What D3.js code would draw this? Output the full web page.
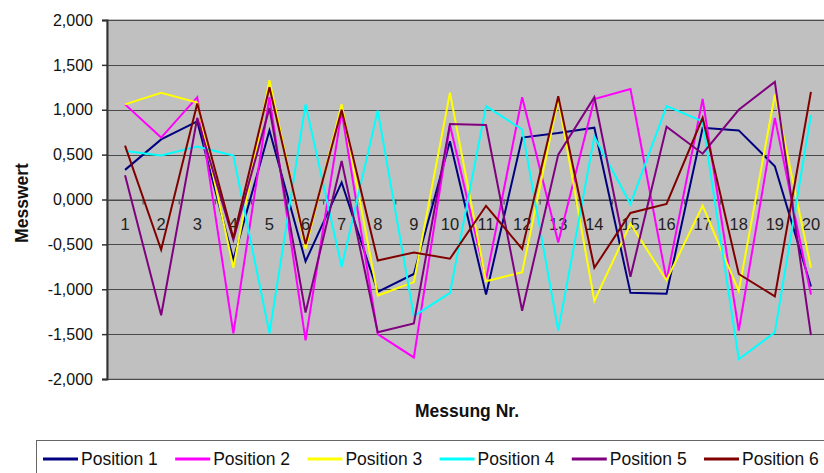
<!DOCTYPE html>
<html>
<head>
<meta charset="utf-8">
<script src="https://cdn.jsdelivr.net/npm/d3@7"></script>
<style>
  html, body { margin: 0; padding: 0; background: #fff; }
  svg { display: block; font-family: Arial, "Liberation Sans", sans-serif; }
</style>
</head>
<body>
<svg id="chart" width="824" height="473"></svg>
<script>
// Measurement numbers on the category axis
const messungen = d3.range(1, 21);

// Measured values per position
const position1 = [0.33, 0.67, 0.87, -0.67, 0.77, -0.69, 0.19, -1.03, -0.83, 0.65, -1.06, 0.69, 0.74, 0.80, -1.04, -1.05, 0.80, 0.77, 0.37, -0.97];
const position2 = [1.06, 0.69, 1.14, -1.49, 1.14, -1.57, 0.98, -1.50, -1.76, 0.83, -0.89, 1.14, -0.48, 1.12, 1.23, -0.90, 1.12, -1.46, 0.91, -1.06];
const position3 = [1.06, 1.19, 1.08, -0.76, 1.33, -0.55, 1.06, -1.07, -0.92, 1.19, -0.91, -0.81, 1.12, -1.13, -0.27, -0.90, -0.07, -1.02, 1.17, -0.76];
const position4 = [0.54, 0.49, 0.59, 0.49, -1.49, 1.06, -0.75, 0.99, -1.30, -1.04, 1.04, 0.78, -1.46, 0.70, -0.05, 1.04, 0.87, -1.78, -1.48, 0.94];
const position5 = [0.27, -1.29, 0.91, -0.45, 1.02, -1.26, 0.43, -1.48, -1.38, 0.84, 0.83, -1.24, 0.50, 1.14, -0.86, 0.81, 0.51, 1.00, 1.31, -1.51];
const position6 = [0.60, -0.56, 1.07, -0.43, 1.25, -0.50, 1.00, -0.68, -0.59, -0.66, -0.07, -0.55, 1.15, -0.76, -0.15, -0.05, 0.91, -0.83, -1.08, 1.20];

const seriesNames = ["Position 1", "Position 2", "Position 3", "Position 4", "Position 5", "Position 6"];
const seriesValues = [position1, position2, position3, position4, position5, position6];
const seriesColors = ["#000080", "#ff00ff", "#ffff00", "#00ffff", "#800080", "#800000"];

// Value axis ticks
const yTicks = [-2, -1.5, -1, -0.5, 0, 0.5, 1, 1.5, 2];

const svg = d3.select("#chart");

const plotLeft = 107, plotTop = 20, plotBottom = 379;
const bandStep = 36.1;

const x = d3.scaleBand()
  .domain(messungen)
  .range([plotLeft, plotLeft + bandStep * messungen.length])
  .paddingInner(0).paddingOuter(0);

const y = d3.scaleLinear().domain([-2, 2]).range([plotBottom, plotTop]);

const locale = d3.formatLocale({ decimal: ",", thousands: ".", grouping: [3], currency: ["", " €"], minus: "-" });
const fmt = locale.format(".3f");

// Plot background
svg.append("rect")
  .attr("x", plotLeft).attr("y", plotTop)
  .attr("width", x.range()[1] - plotLeft).attr("height", plotBottom - plotTop)
  .attr("fill", "#c0c0c0")
  .attr("stroke", "#8a8a8a").attr("stroke-width", 1);

// Horizontal gridlines
svg.append("g")
  .selectAll("line")
  .data(yTicks)
  .join("line")
  .attr("x1", plotLeft).attr("x2", x.range()[1])
  .attr("y1", d => Math.round(y(d)) + 0.5).attr("y2", d => Math.round(y(d)) + 0.5)
  .attr("stroke", "#4a4a4a").attr("stroke-width", 1.2);

// Value axis
const yAxis = svg.append("g")
  .attr("transform", `translate(${plotLeft},0)`)
  .call(d3.axisLeft(y).tickValues(yTicks).tickFormat(fmt).tickSizeOuter(0).tickSize(5).tickPadding(9));
yAxis.select(".domain").attr("stroke", "#333").attr("stroke-width", 2);
yAxis.selectAll(".tick line").attr("stroke", "#333").attr("stroke-width", 1.5);
yAxis.selectAll(".tick text")
  .attr("font-size", 16).attr("fill", "#111")
  .attr("font-family", "Arial, 'Liberation Sans', sans-serif");

// Category axis crossing at zero
const xAxis = svg.append("g")
  .attr("transform", `translate(0,${y(0)})`)
  .call(d3.axisBottom(x).tickSize(0).tickPadding(19));
xAxis.select(".domain").attr("stroke", "#4a4a4a").attr("stroke-width", 1.2);
xAxis.selectAll(".tick text")
  .attr("font-size", 16.5).attr("fill", "#222")
  .attr("font-family", "Arial, 'Liberation Sans', sans-serif");

// Tick marks between categories
svg.append("g")
  .selectAll("line")
  .data(messungen.slice(1))
  .join("line")
  .attr("x1", d => x(d)).attr("x2", d => x(d))
  .attr("y1", y(0)).attr("y2", y(0) + 5)
  .attr("stroke", "#555").attr("stroke-width", 1.2);

// Series lines
const line = d3.line()
  .x((d, i) => x(messungen[i]) + x.bandwidth() / 2)
  .y(d => y(d));

svg.append("g")
  .selectAll("path")
  .data(seriesValues)
  .join("path")
  .attr("d", d => line(d))
  .attr("fill", "none")
  .attr("stroke", (d, i) => seriesColors[i])
  .attr("stroke-width", 2)
  .attr("stroke-linejoin", "miter");

// Axis titles
svg.append("text")
  .attr("x", 467).attr("y", 417)
  .attr("text-anchor", "middle")
  .attr("font-size", 17.5).attr("font-weight", "bold").attr("fill", "#111")
  .text("Messung Nr.");

svg.append("text")
  .attr("transform", "translate(28,203) rotate(-90)")
  .attr("text-anchor", "middle")
  .attr("font-size", 17.5).attr("font-weight", "bold").attr("fill", "#111")
  .text("Messwert");

// Legend
const legend = svg.append("g");
legend.append("rect")
  .attr("x", 36.5).attr("y", 440.5)
  .attr("width", 800).attr("height", 40)
  .attr("fill", "#fff").attr("stroke", "#666").attr("stroke-width", 1);

const items = legend.selectAll("g.item")
  .data(seriesNames)
  .join("g")
  .attr("class", "item")
  .attr("transform", (d, i) => `translate(${43 + i * 132.2},0)`);
items.append("line")
  .attr("x1", 0).attr("x2", 35)
  .attr("y1", 459).attr("y2", 459)
  .attr("stroke", (d, i) => seriesColors[i]).attr("stroke-width", 3);
items.append("text")
  .attr("x", 38).attr("y", 465)
  .attr("font-size", 17.5).attr("fill", "#111")
  .text(d => d);
</script>
</body>
</html>
